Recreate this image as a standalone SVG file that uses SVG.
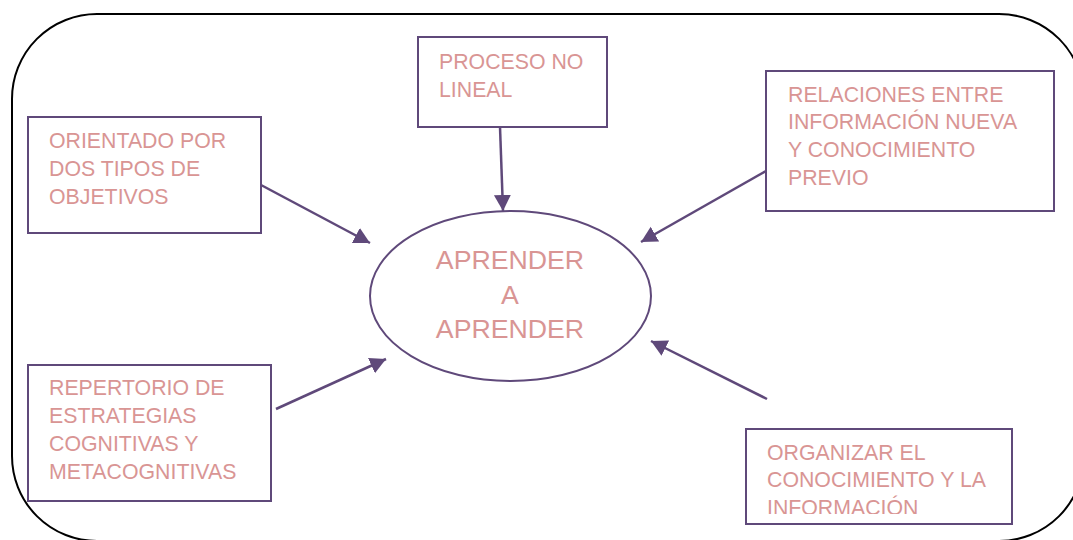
<svg xmlns="http://www.w3.org/2000/svg" width="1073" height="540" viewBox="0 0 1073 540">
<style>
.box{fill:#fff;stroke:#5f497a;stroke-width:2}
.t{font-family:"Liberation Sans",Arial,sans-serif;font-size:21.3px;fill:#d99594}
.big{font-family:"Liberation Sans",Arial,sans-serif;font-size:26.7px;fill:#d99594;text-anchor:middle}
.c{stroke:#5f497a;stroke-width:2.5;fill:none;marker-end:url(#ah)}
</style>
<defs>
<marker id="ah" markerUnits="userSpaceOnUse" markerWidth="18" markerHeight="18" refX="16" refY="8.5" orient="auto">
<path d="M0,0 L16,8.5 L0,17 z" fill="#5f497a"/>
</marker>
<clipPath id="clipOrg"><rect x="746" y="429" width="266" height="85"/></clipPath>
</defs>
<rect width="1073" height="540" fill="#fff"/>
<rect x="12" y="14" width="1072" height="527" rx="85" ry="85" fill="none" stroke="#000" stroke-width="2"/>
<g id="connectors">
<line class="c" x1="261" y1="185" x2="370" y2="243"/>
<line class="c" x1="500" y1="127" x2="503" y2="211"/>
<line class="c" x1="766" y1="171" x2="641" y2="242"/>
<line class="c" x1="276" y1="409" x2="386" y2="359"/>
<line class="c" x1="767" y1="399" x2="651" y2="341"/>
</g>
<g id="center">
<ellipse cx="510.5" cy="296" rx="140.5" ry="85" fill="#fff" stroke="#5f497a" stroke-width="2"/>
<text class="big" x="510" y="269">APRENDER</text>
<text class="big" x="510" y="304">A</text>
<text class="big" x="510" y="338">APRENDER</text>
</g>
<g id="orientado">
<rect class="box" x="28" y="117" width="233" height="116"/>
<text class="t" x="49" y="148">ORIENTADO POR</text>
<text class="t" x="49" y="176">DOS TIPOS DE</text>
<text class="t" x="49" y="204">OBJETIVOS</text>
</g>
<g id="proceso">
<rect class="box" x="418" y="37" width="189" height="90"/>
<text class="t" x="439" y="69">PROCESO NO</text>
<text class="t" x="439" y="97">LINEAL</text>
</g>
<g id="relaciones">
<rect class="box" x="766" y="71" width="288" height="140"/>
<text class="t" x="788" y="102">RELACIONES ENTRE</text>
<text class="t" x="788" y="129">INFORMACIÓN NUEVA</text>
<text class="t" x="788" y="157">Y CONOCIMIENTO</text>
<text class="t" x="788" y="185">PREVIO</text>
</g>
<g id="repertorio">
<rect class="box" x="28" y="365" width="243" height="136"/>
<text class="t" x="49" y="395">REPERTORIO DE</text>
<text class="t" x="49" y="423">ESTRATEGIAS</text>
<text class="t" x="49" y="451">COGNITIVAS Y</text>
<text class="t" x="49" y="479">METACOGNITIVAS</text>
</g>
<g id="organizar">
<rect class="box" x="746" y="429" width="266" height="95"/>
<g clip-path="url(#clipOrg)">
<text class="t" x="767" y="460">ORGANIZAR EL</text>
<text class="t" x="767" y="487">CONOCIMIENTO Y LA</text>
<text class="t" x="767" y="515">INFORMACIÓN</text>
</g>
</g>
</svg>
